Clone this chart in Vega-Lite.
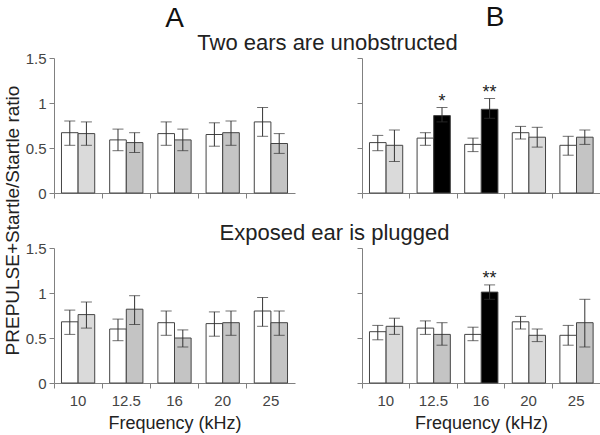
{
  "$schema": "https://vega.github.io/schema/vega-lite/v6.json",
  "padding": {"left": 3, "top": 4, "right": 2, "bottom": 2},
  "columns": 2,
  "bounds": "flush",
  "spacing": {"column": 67, "row": 55},
  "datasets": {
    "d": [
      {"p": "A", "c": "T", "f": "10", "g": "w", "s": "white", "v": 0.67, "lo": 0.53, "hi": 0.80, "st": ""},
      {"p": "A", "c": "T", "f": "10", "g": "g", "s": "light", "v": 0.66, "lo": 0.53, "hi": 0.79, "st": ""},
      {"p": "A", "c": "T", "f": "12.5", "g": "w", "s": "white", "v": 0.59, "lo": 0.47, "hi": 0.71, "st": ""},
      {"p": "A", "c": "T", "f": "12.5", "g": "g", "s": "dark", "v": 0.56, "lo": 0.45, "hi": 0.67, "st": ""},
      {"p": "A", "c": "T", "f": "16", "g": "w", "s": "white", "v": 0.66, "lo": 0.53, "hi": 0.79, "st": ""},
      {"p": "A", "c": "T", "f": "16", "g": "g", "s": "dark", "v": 0.59, "lo": 0.47, "hi": 0.71, "st": ""},
      {"p": "A", "c": "T", "f": "20", "g": "w", "s": "white", "v": 0.65, "lo": 0.52, "hi": 0.78, "st": ""},
      {"p": "A", "c": "T", "f": "20", "g": "g", "s": "dark", "v": 0.67, "lo": 0.53, "hi": 0.80, "st": ""},
      {"p": "A", "c": "T", "f": "25", "g": "w", "s": "white", "v": 0.79, "lo": 0.63, "hi": 0.95, "st": ""},
      {"p": "A", "c": "T", "f": "25", "g": "g", "s": "dark", "v": 0.55, "lo": 0.44, "hi": 0.66, "st": ""},
      {"p": "B", "c": "T", "f": "10", "g": "w", "s": "white", "v": 0.56, "lo": 0.47, "hi": 0.64, "st": ""},
      {"p": "B", "c": "T", "f": "10", "g": "g", "s": "light", "v": 0.53, "lo": 0.35, "hi": 0.70, "st": ""},
      {"p": "B", "c": "T", "f": "12.5", "g": "w", "s": "white", "v": 0.61, "lo": 0.53, "hi": 0.67, "st": ""},
      {"p": "B", "c": "T", "f": "12.5", "g": "g", "s": "black", "v": 0.86, "lo": 0.79, "hi": 0.95, "st": "*"},
      {"p": "B", "c": "T", "f": "16", "g": "w", "s": "white", "v": 0.54, "lo": 0.46, "hi": 0.61, "st": ""},
      {"p": "B", "c": "T", "f": "16", "g": "g", "s": "black", "v": 0.93, "lo": 0.83, "hi": 1.05, "st": "**"},
      {"p": "B", "c": "T", "f": "20", "g": "w", "s": "white", "v": 0.67, "lo": 0.60, "hi": 0.74, "st": ""},
      {"p": "B", "c": "T", "f": "20", "g": "g", "s": "light", "v": 0.62, "lo": 0.51, "hi": 0.73, "st": ""},
      {"p": "B", "c": "T", "f": "25", "g": "w", "s": "white", "v": 0.53, "lo": 0.42, "hi": 0.63, "st": ""},
      {"p": "B", "c": "T", "f": "25", "g": "g", "s": "dark", "v": 0.62, "lo": 0.54, "hi": 0.70, "st": ""},
      {"p": "A", "c": "U", "f": "10", "g": "w", "s": "white", "v": 0.68, "lo": 0.54, "hi": 0.81, "st": ""},
      {"p": "A", "c": "U", "f": "10", "g": "g", "s": "light", "v": 0.76, "lo": 0.61, "hi": 0.90, "st": ""},
      {"p": "A", "c": "U", "f": "12.5", "g": "w", "s": "white", "v": 0.60, "lo": 0.47, "hi": 0.71, "st": ""},
      {"p": "A", "c": "U", "f": "12.5", "g": "g", "s": "dark", "v": 0.82, "lo": 0.65, "hi": 0.97, "st": ""},
      {"p": "A", "c": "U", "f": "16", "g": "w", "s": "white", "v": 0.67, "lo": 0.53, "hi": 0.80, "st": ""},
      {"p": "A", "c": "U", "f": "16", "g": "g", "s": "dark", "v": 0.50, "lo": 0.40, "hi": 0.59, "st": ""},
      {"p": "A", "c": "U", "f": "20", "g": "w", "s": "white", "v": 0.66, "lo": 0.52, "hi": 0.79, "st": ""},
      {"p": "A", "c": "U", "f": "20", "g": "g", "s": "dark", "v": 0.67, "lo": 0.53, "hi": 0.80, "st": ""},
      {"p": "A", "c": "U", "f": "25", "g": "w", "s": "white", "v": 0.80, "lo": 0.63, "hi": 0.95, "st": ""},
      {"p": "A", "c": "U", "f": "25", "g": "g", "s": "dark", "v": 0.67, "lo": 0.53, "hi": 0.80, "st": ""},
      {"p": "B", "c": "U", "f": "10", "g": "w", "s": "white", "v": 0.57, "lo": 0.48, "hi": 0.64, "st": ""},
      {"p": "B", "c": "U", "f": "10", "g": "g", "s": "light", "v": 0.63, "lo": 0.54, "hi": 0.72, "st": ""},
      {"p": "B", "c": "U", "f": "12.5", "g": "w", "s": "white", "v": 0.61, "lo": 0.54, "hi": 0.69, "st": ""},
      {"p": "B", "c": "U", "f": "12.5", "g": "g", "s": "dark", "v": 0.54, "lo": 0.42, "hi": 0.67, "st": ""},
      {"p": "B", "c": "U", "f": "16", "g": "w", "s": "white", "v": 0.54, "lo": 0.47, "hi": 0.62, "st": ""},
      {"p": "B", "c": "U", "f": "16", "g": "g", "s": "black", "v": 1.01, "lo": 0.93, "hi": 1.09, "st": "**"},
      {"p": "B", "c": "U", "f": "20", "g": "w", "s": "white", "v": 0.68, "lo": 0.60, "hi": 0.74, "st": ""},
      {"p": "B", "c": "U", "f": "20", "g": "g", "s": "light", "v": 0.53, "lo": 0.46, "hi": 0.60, "st": ""},
      {"p": "B", "c": "U", "f": "25", "g": "w", "s": "white", "v": 0.53, "lo": 0.42, "hi": 0.64, "st": ""},
      {"p": "B", "c": "U", "f": "25", "g": "g", "s": "dark", "v": 0.67, "lo": 0.40, "hi": 0.93, "st": ""}
    ]
  },
  "concat": [
    {
      "width": 241, "height": 135,
      "title": {"text": "A", "frame": "group", "baseline": "alphabetic", "offset": -4},
      "data": {"name": "d"},
      "transform": [{"filter": "datum.p == 'A' && datum.c == 'T'"}],
      "encoding": {
        "x": {"field": "f", "type": "nominal", "sort": ["10", "12.5", "16", "20", "25"], "scale": {"paddingInner": 0, "paddingOuter": 0}, "axis": {"labels": false, "title": null, "bandPosition": 0, "tickSize": 5}},
        "xOffset": {"field": "g", "type": "nominal", "sort": ["w", "g"], "scale": {"paddingInner": 0, "paddingOuter": 0.45}}
      },
      "layer": [
        {"mark": {"type": "bar", "stroke": "#444444", "strokeWidth": 1},
         "encoding": {
           "y": {"field": "v", "type": "quantitative", "scale": {"domain": [0, 1.5], "nice": false}, "axis": {"title": null, "values": [0, 0.5, 1, 1.5], "format": "~g", "tickSize": 5, "labelPadding": 3}},
           "fill": {"field": "s", "type": "nominal", "scale": {"domain": ["white", "light", "dark", "black"], "range": ["#ffffff", "#dadada", "#c4c4c4", "#000000"]}, "legend": null}}},
        {"mark": {"type": "rule", "color": "#333333"}, "encoding": {"y": {"field": "lo", "type": "quantitative"}, "y2": {"field": "hi"}}},
        {"mark": {"type": "tick", "orient": "horizontal", "size": 11, "thickness": 1, "color": "#333333"}, "encoding": {"y": {"field": "hi", "type": "quantitative"}}},
        {"mark": {"type": "tick", "orient": "horizontal", "size": 11, "thickness": 1, "color": "#333333"}, "encoding": {"y": {"field": "lo", "type": "quantitative"}}},
        {"transform": [{"filter": "datum.st != ''"}], "mark": {"type": "text", "dy": -1, "fontSize": 18, "color": "#222222", "baseline": "alphabetic"}, "encoding": {"y": {"field": "hi", "type": "quantitative"}, "text": {"field": "st"}}}
      ]
    },
    {
      "width": 238, "height": 135,
      "title": {"text": "B", "frame": "group", "baseline": "alphabetic", "offset": -23, "dx": 14},
      "data": {"name": "d"},
      "transform": [{"filter": "datum.p == 'B' && datum.c == 'T'"}],
      "encoding": {
        "x": {"field": "f", "type": "nominal", "sort": ["10", "12.5", "16", "20", "25"], "scale": {"paddingInner": 0, "paddingOuter": 0}, "axis": {"labels": false, "title": null, "bandPosition": 0, "tickSize": 5}},
        "xOffset": {"field": "g", "type": "nominal", "sort": ["w", "g"], "scale": {"paddingInner": 0, "paddingOuter": 0.45}}
      },
      "layer": [
        {"mark": {"type": "bar", "stroke": "#444444", "strokeWidth": 1},
         "encoding": {
           "y": {"field": "v", "type": "quantitative", "scale": {"domain": [0, 1.5], "nice": false}, "axis": {"title": "Two ears are unobstructed", "labels": false, "values": [0, 0.5, 1, 1.5], "tickSize": 5, "titleAngle": 0, "titleX": -35, "titleY": -16, "titleAlign": "center", "titleBaseline": "middle", "titleFontSize": 22}},
           "fill": {"field": "s", "type": "nominal", "scale": {"domain": ["white", "light", "dark", "black"], "range": ["#ffffff", "#dadada", "#c4c4c4", "#000000"]}, "legend": null}}},
        {"mark": {"type": "rule", "color": "#333333"}, "encoding": {"y": {"field": "lo", "type": "quantitative"}, "y2": {"field": "hi"}}},
        {"mark": {"type": "tick", "orient": "horizontal", "size": 11, "thickness": 1, "color": "#333333"}, "encoding": {"y": {"field": "hi", "type": "quantitative"}}},
        {"mark": {"type": "tick", "orient": "horizontal", "size": 11, "thickness": 1, "color": "#333333"}, "encoding": {"y": {"field": "lo", "type": "quantitative"}}},
        {"transform": [{"filter": "datum.st != ''"}], "mark": {"type": "text", "dy": -1, "fontSize": 18, "color": "#222222", "baseline": "alphabetic"}, "encoding": {"y": {"field": "hi", "type": "quantitative"}, "text": {"field": "st"}}}
      ]
    },
    {
      "width": 241, "height": 135,
      "data": {"name": "d"},
      "transform": [{"filter": "datum.p == 'A' && datum.c == 'U'"}],
      "encoding": {
        "x": {"field": "f", "type": "nominal", "sort": ["10", "12.5", "16", "20", "25"], "scale": {"paddingInner": 0, "paddingOuter": 0}, "axis": {"labelAngle": 0, "title": "Frequency (kHz)", "bandPosition": 0, "tickSize": 5, "labelPadding": 5, "titlePadding": 6}},
        "xOffset": {"field": "g", "type": "nominal", "sort": ["w", "g"], "scale": {"paddingInner": 0, "paddingOuter": 0.45}}
      },
      "layer": [
        {"mark": {"type": "bar", "stroke": "#444444", "strokeWidth": 1},
         "encoding": {
           "y": {"field": "v", "type": "quantitative", "scale": {"domain": [0, 1.5], "nice": false}, "axis": {"title": "PREPULSE+Startle/Startle ratio", "titleY": -28, "titlePadding": 3, "titleFontSize": 19, "values": [0, 0.5, 1, 1.5], "format": "~g", "tickSize": 5, "labelPadding": 3}},
           "fill": {"field": "s", "type": "nominal", "scale": {"domain": ["white", "light", "dark", "black"], "range": ["#ffffff", "#dadada", "#c4c4c4", "#000000"]}, "legend": null}}},
        {"mark": {"type": "rule", "color": "#333333"}, "encoding": {"y": {"field": "lo", "type": "quantitative"}, "y2": {"field": "hi"}}},
        {"mark": {"type": "tick", "orient": "horizontal", "size": 11, "thickness": 1, "color": "#333333"}, "encoding": {"y": {"field": "hi", "type": "quantitative"}}},
        {"mark": {"type": "tick", "orient": "horizontal", "size": 11, "thickness": 1, "color": "#333333"}, "encoding": {"y": {"field": "lo", "type": "quantitative"}}},
        {"transform": [{"filter": "datum.st != ''"}], "mark": {"type": "text", "dy": -1, "fontSize": 18, "color": "#222222", "baseline": "alphabetic"}, "encoding": {"y": {"field": "hi", "type": "quantitative"}, "text": {"field": "st"}}}
      ]
    },
    {
      "width": 238, "height": 135,
      "data": {"name": "d"},
      "transform": [{"filter": "datum.p == 'B' && datum.c == 'U'"}],
      "encoding": {
        "x": {"field": "f", "type": "nominal", "sort": ["10", "12.5", "16", "20", "25"], "scale": {"paddingInner": 0, "paddingOuter": 0}, "axis": {"labelAngle": 0, "title": "Frequency (kHz)", "bandPosition": 0, "tickSize": 5, "labelPadding": 5, "titlePadding": 6}},
        "xOffset": {"field": "g", "type": "nominal", "sort": ["w", "g"], "scale": {"paddingInner": 0, "paddingOuter": 0.45}}
      },
      "layer": [
        {"mark": {"type": "bar", "stroke": "#444444", "strokeWidth": 1},
         "encoding": {
           "y": {"field": "v", "type": "quantitative", "scale": {"domain": [0, 1.5], "nice": false}, "axis": {"title": "Exposed ear is plugged", "labels": false, "values": [0, 0.5, 1, 1.5], "tickSize": 5, "titleAngle": 0, "titleX": -28, "titleY": -16, "titleAlign": "center", "titleBaseline": "middle", "titleFontSize": 22}},
           "fill": {"field": "s", "type": "nominal", "scale": {"domain": ["white", "light", "dark", "black"], "range": ["#ffffff", "#dadada", "#c4c4c4", "#000000"]}, "legend": null}}},
        {"mark": {"type": "rule", "color": "#333333"}, "encoding": {"y": {"field": "lo", "type": "quantitative"}, "y2": {"field": "hi"}}},
        {"mark": {"type": "tick", "orient": "horizontal", "size": 11, "thickness": 1, "color": "#333333"}, "encoding": {"y": {"field": "hi", "type": "quantitative"}}},
        {"mark": {"type": "tick", "orient": "horizontal", "size": 11, "thickness": 1, "color": "#333333"}, "encoding": {"y": {"field": "lo", "type": "quantitative"}}},
        {"transform": [{"filter": "datum.st != ''"}], "mark": {"type": "text", "dy": -1, "fontSize": 18, "color": "#222222", "baseline": "alphabetic"}, "encoding": {"y": {"field": "hi", "type": "quantitative"}, "text": {"field": "st"}}}
      ]
    }
  ],
  "config": {
    "view": {"stroke": null},
    "font": "Liberation Sans",
    "axis": {"grid": false, "domainColor": "#808080", "tickColor": "#808080", "labelColor": "#444444", "labelFont": "Liberation Sans", "labelFontSize": 15, "titleFont": "Liberation Sans", "titleFontSize": 18, "titleFontWeight": "normal", "titleColor": "#222222"},
    "title": {"font": "Liberation Sans", "fontSize": 28, "fontWeight": "normal", "color": "#111111"}
  }
}
